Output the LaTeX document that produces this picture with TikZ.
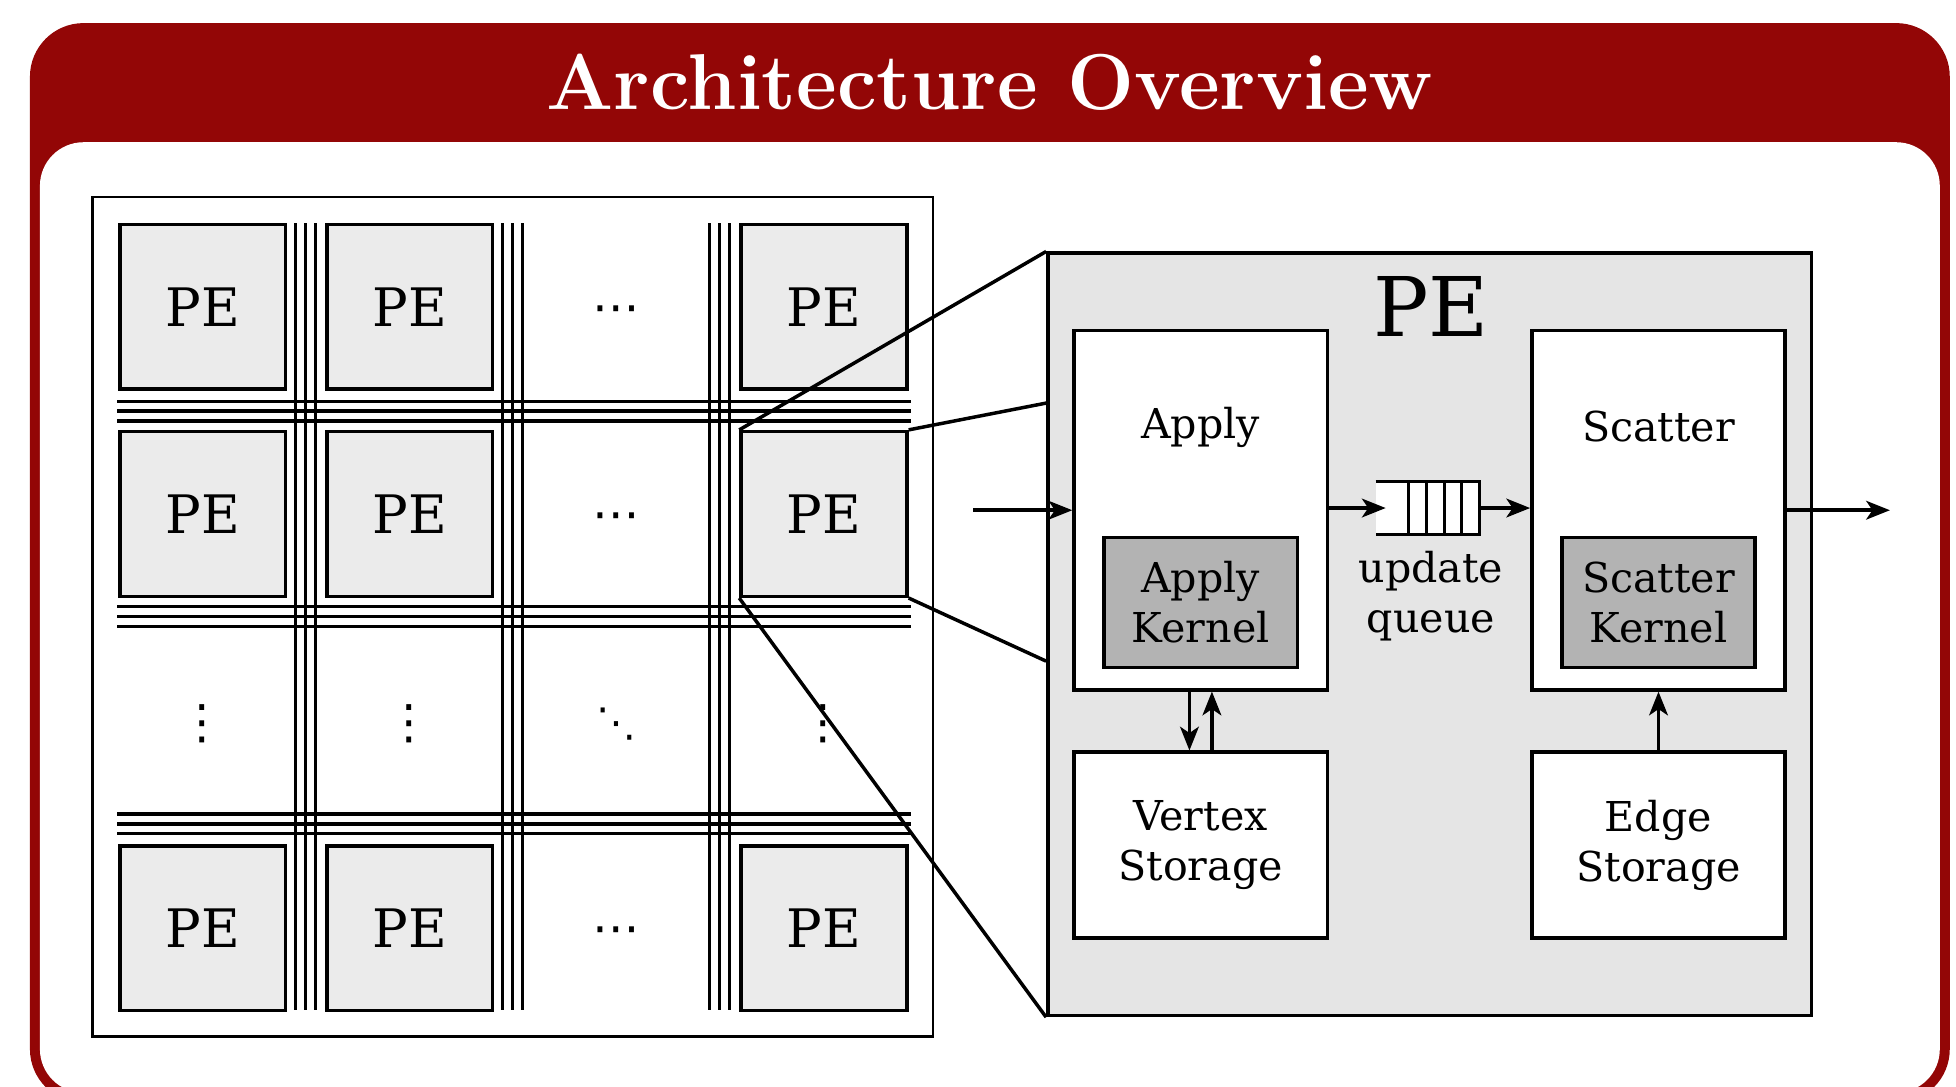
\documentclass[tikz,border=0pt]{standalone}
\usepackage{fontspec}
\newfontfamily\bodyfont{DejaVu Serif}
\newfontfamily\dotfont{DejaVu Sans}
\usetikzlibrary{arrows.meta,calc}
\definecolor{blockred}{RGB}{147,6,6}
\definecolor{pegray}{RGB}{235,235,235}
\definecolor{bigpegray}{RGB}{229,229,229}
\definecolor{kernelgray}{RGB}{179,179,179}
\begin{document}
\begin{tikzpicture}[x=1pt,y=-1pt,
  pebox/.style={draw, line width=2.8pt, fill=pegray, minimum width=133pt, minimum height=132pt, inner sep=0pt, font=\bodyfont\fontsize{42.5}{51}\selectfont},
  stagebox/.style={draw, line width=2.8pt, fill=white, minimum width=203pt, inner sep=0pt, font=\bodyfont\fontsize{33}{40}\selectfont, align=center},
  kernelbox/.style={draw, line width=2.8pt, fill=kernelgray, minimum width=155pt, minimum height=104pt, inner sep=0pt, font=\bodyfont\fontsize{33}{40}\selectfont, align=center},
  lbl/.style={inner sep=0pt, font=\bodyfont\fontsize{33}{40}\selectfont, align=center},
  bus/.style={line width=2.5pt},
  arr/.style={line width=2.8pt, -{Stealth[length=19pt,width=15pt,inset=5pt]}},
  zoomline/.style={line width=2.8pt},
  dotsym/.style={inner sep=0pt, anchor=base, font=\dotfont\fontsize{38}{40}\selectfont}
]
\useasboundingbox (0,0) rectangle (1568,871);
\clip (0,0) rectangle (1568,871);
% block
\fill[blockred, rounded corners=43pt] (24,18.5) rectangle (1563,884);
\fill[white, rounded corners=35pt] (32,114) rectangle (1555,876);
\node[text=white, inner sep=0pt, anchor=base, font=\bfseries\fontsize{63.5}{72}\selectfont] (title) at (793.5,88) {Architecture Overview};

% grid
\node[draw, line width=2.2pt, minimum width=674pt, minimum height=673pt, inner sep=0pt] (grid) at (411,494.5) {};
\foreach \x in {237,245,253,403,411,419,569,577,585}
  \draw[bus] (\x,179) -- (\x,810);
\foreach \y in {321.5,329.5,337.5,486,494,502,652.5,660.5,668.5}
  \draw[bus] (94,\y) -- (730,\y);

\node[pebox] (pe-1-1) at (162.5,246) {PE};
\node[pebox] (pe-1-2) at (328.5,246) {PE};
\node[pebox] (pe-1-3) at (660.5,246) {PE};
\node[pebox] (pe-2-1) at (162.5,412) {PE};
\node[pebox] (pe-2-2) at (328.5,412) {PE};
\node[pebox] (pe-2-3) at (660.5,412) {PE};
\node[pebox] (pe-4-1) at (162.5,744) {PE};
\node[pebox] (pe-4-2) at (328.5,744) {PE};
\node[pebox] (pe-4-3) at (660.5,744) {PE};

\node[dotsym] (dc1) at (494,259) {⋯};
\node[dotsym] (dc2) at (494,425) {⋯};
\node[dotsym] (dc4) at (494,757) {⋯};
\node[dotsym] (dv1) at (162,592) {⋮};
\node[dotsym] (dv2) at (328,592) {⋮};
\node[dotsym] (dv4) at (660,592) {⋮};
\node[dotsym, font=\dotfont\fontsize{32}{40}\selectfont] (dd) at (494,590) {⋱};

% big PE
\node[draw, line width=2.8pt, fill=bigpegray, minimum width=612pt, minimum height=611pt, inner sep=0pt] (bigpe) at (1146,508.5) {};
\node[inner sep=0pt, font=\bodyfont\fontsize{66}{79}\selectfont] (pelabel) at (1147,246) {PE};
\coordinate (zt) at ($(bigpe.north west)!0.198!(bigpe.south west)$);
\coordinate (zb) at ($(bigpe.north west)!0.535!(bigpe.south west)$);

\draw[zoomline] (pe-2-3.north west) -- (bigpe.north west);
\draw[zoomline] (pe-2-3.north east) -- (zt);
\draw[zoomline] (pe-2-3.south east) -- (zb);
\draw[zoomline] (pe-2-3.south west) -- (bigpe.south west);

\node[stagebox, minimum height=288pt] (apply) at (962.5,409) {};
\node[lbl] (applylbl) at (962.5,342.3) {Apply};
\node[kernelbox] (applyk) at (962.5,483) {Apply\\Kernel};
\node[stagebox, minimum height=288pt] (scatter) at (1329.5,409) {};
\node[lbl] (scatterlbl) at (1329.5,342.3) {Scatter};
\node[kernelbox] (scatterk) at (1329.5,483) {Scatter\\Kernel};
\node[stagebox, minimum height=149pt] (vertex) at (962.5,677.5) {Vertex\\Storage};
\node[stagebox, minimum height=149pt] (edge) at (1329.5,677.5) {Edge\\Storage};

% queue
\node[fill=white, minimum width=83pt, minimum height=41.5pt, inner sep=0pt] (queue) at (1144.5,407.25) {};
\draw[line width=2.5pt] (queue.north west) -- (queue.north east) -- (queue.south east) -- (queue.south west);
\foreach \dx in {26.5,41,55,69}
  \draw[line width=2.5pt] ([xshift=\dx pt]queue.north west) -- ([xshift=\dx pt]queue.south west);
\node[lbl] (qlbl) at (1147,478) {update\\queue};

% arrows
\coordinate (in) at (780,409);
\coordinate (out) at (1515,409);
\draw[arr] (in) -- (apply.west);
\draw[arr] (apply.east |- queue.west) -- ([xshift=8pt]queue.west);
\draw[arr] (queue.east) -- (scatter.west |- queue.east);
\draw[arr] (scatter.east) -- (out);
\draw[arr] ([xshift=-9pt]apply.south) -- ([xshift=-9pt]vertex.north);
\draw[arr] ([xshift=9pt]vertex.north) -- ([xshift=9pt]apply.south);
\draw[arr] (edge.north) -- (scatter.south);
\end{tikzpicture}
\end{document}
